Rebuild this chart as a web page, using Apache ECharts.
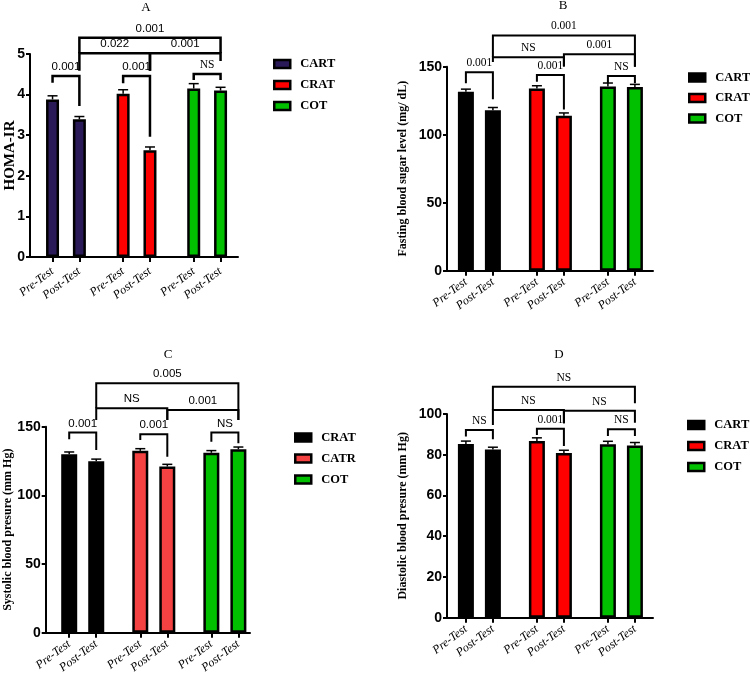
<!DOCTYPE html>
<html>
<head>
<meta charset="utf-8">
<script src="https://cdn.jsdelivr.net/npm/echarts@6/dist/echarts.min.js"></script>
<style>
  html, body { margin: 0; padding: 0; background: #fff; }
  #chart { width: 750px; height: 691px; }
</style>
</head>
<body>
<div id="chart"></div>
<script>
// tick labels under each bar (same in every panel)
const tickLabels = ['Pre-Test', 'Post-Test', 'Pre-Test', 'Post-Test', 'Pre-Test', 'Post-Test'];

// group names per panel (panel C uses different names in its legend)
const groupsA = ['CART', 'CRAT', 'COT'];
const groupsB = ['CART', 'CRAT', 'COT'];
const groupsC = ['CRAT', 'CATR', 'COT'];
const groupsD = ['CART', 'CRAT', 'COT'];

// means and error bars, order: g1 pre, g1 post, g2 pre, g2 post, g3 pre, g3 post
const homaMean = [3.88, 3.39, 4.02, 2.63, 4.15, 4.10];
const homaErr = [0.09, 0.07, 0.10, 0.08, 0.12, 0.08];
const fbsMean = [131.5, 118, 134, 114, 135.5, 135];
const fbsErr = [2, 2, 2, 2, 2.5, 2];
const sbpMean = [130, 124.8, 132.4, 121, 131, 133.6];
const sbpErr = [1.6, 1.6, 1.6, 1.6, 1.6, 1.6];
const dbpMean = [85.3, 82.6, 86.8, 80.8, 85.1, 84.5];
const dbpErr = [1.4, 1.1, 1.5, 1.4, 1.5, 1.5];

// significance brackets: [from bar, to bar, line level, left leg end, right leg end, text]
const homaBrackets = [
  [0, 1, 4.46, 4.29, 3.72, '0.001'],
  [2, 3, 4.46, 4.28, 2.96, '0.001'],
  [4, 5, 4.51, 4.36, 4.36, 'NS'],
  [1, 3, 5.02, 4.59, 4.59, '0.022'],
  [3, 5, 5.02, 4.59, 4.83, '0.001'],
  [1, 5, 5.40, 5.02, 5.02, '0.001']
];
const fbsBrackets = [
  [0, 1, 145.9, 137.8, 126, '0.001'],
  [2, 3, 143.9, 139, 118.5, '0.001'],
  [4, 5, 143.1, 137.8, 137.8, 'NS'],
  [1, 3, 156.9, 153.5, 150.5, 'NS'],
  [3, 5, 159.2, 150, 150, '0.001'],
  [1, 5, 173, 156.9, 150, '0.001']
];
const sbpBrackets = [
  [0, 1, 145.7, 140.9, 133, '0.001'],
  [2, 3, 144.5, 140.3, 128.2, '0.001'],
  [4, 5, 145.7, 139.1, 138, 'NS'],
  [1, 3, 163.4, 154.9, 154.9, 'NS'],
  [3, 5, 162.2, 154.9, 154.9, '0.001'],
  [1, 5, 181.6, 163.4, 154.9, '0.005']
];
const dbpBrackets = [
  [0, 1, 92.1, 88.9, 87.6, 'NS'],
  [2, 3, 92.8, 89.7, 84.3, '0.001'],
  [4, 5, 92.5, 89.2, 89.2, 'NS'],
  [1, 3, 102, 94.6, 95.5, 'NS'],
  [3, 5, 101.6, 95.5, 95.7, 'NS'],
  [1, 5, 113.4, 102, 105.3, 'NS']
];

const SERIF = '"Liberation Serif", "Times New Roman", serif';
const SANS = '"Liberation Sans", Arial, sans-serif';

// bars sit on a value axis: pairs one unit apart, extra gap between groups
const groupGap = 0.63;
const slot = (i) => i + Math.floor(i / 2) * groupGap;
const positions = tickLabels.map((_, i) => slot(i));

const panels = [
  {
    key: 'A', mean: homaMean, err: homaErr, groups: groupsA, brackets: homaBrackets,
    colors: ['#2b1a58', '#ff0000', '#00c000'],
    yName: 'HOMA-IR', yNameSize: 15, nameGap: 12.5, yMax: 5, yInterval: 1,
    left: 30, right: 238, top: 54, bottom: 257, xMin: -0.84, xMax: 6.91, barWidth: 13,
    numFont: SANS, nsFont: SERIF, bracketWidth: 2.5, labelMargin: 13,
    title: [146, 8], legend: [273, 57.5], legendGap: 8
  },
  {
    key: 'B', mean: fbsMean, err: fbsErr, groups: groupsB, brackets: fbsBrackets,
    colors: ['#000000', '#ff0000', '#00c000'],
    yName: 'Fasting blood sugar level (mg/ dL)', yNameSize: 12, nameGap: 38, yMax: 150, yInterval: 50,
    left: 447, right: 653, top: 66.7, bottom: 270.7, xMin: -0.70, xMax: 6.93, barWidth: 16,
    numFont: SERIF, nsFont: SERIF, bracketWidth: 2, labelMargin: 10,
    title: [563, 6], legend: [688, 71], legendGap: 7.5
  },
  {
    key: 'C', mean: sbpMean, err: sbpErr, groups: groupsC, brackets: sbpBrackets,
    colors: ['#000000', '#f44242', '#00c000'],
    yName: 'Systolic blood presure (mm Hg)', yNameSize: 12, nameGap: 32, yMax: 150, yInterval: 50,
    left: 45.7, right: 250, top: 426.7, bottom: 632.7, xMin: -0.87, xMax: 6.69, barWidth: 16,
    numFont: SANS, nsFont: SANS, bracketWidth: 2, labelMargin: 10,
    title: [168, 355], legend: [294, 431], legendGap: 8
  },
  {
    key: 'D', mean: dbpMean, err: dbpErr, groups: groupsD, brackets: dbpBrackets,
    colors: ['#000000', '#ff0000', '#00c000'],
    yName: 'Diastolic blood presure (mm Hg)', yNameSize: 12, nameGap: 38, yMax: 100, yInterval: 20,
    left: 447, right: 653, top: 414, bottom: 617.7, xMin: -0.70, xMax: 6.93, barWidth: 16,
    numFont: SERIF, nsFont: SERIF, bracketWidth: 2, labelMargin: 10,
    title: [559, 355], legend: [687, 418.5], legendGap: 8
  }
];

const labelFor = (v) => {
  const i = positions.findIndex((p) => Math.abs(p - v) < 1e-6);
  return i >= 0 ? tickLabels[i] : '';
};

const grid = [], xAxis = [], yAxis = [], series = [], legend = [], graphic = [];

panels.forEach((p, k) => {
  grid.push({
    left: p.left, top: p.top, width: p.right - p.left, height: p.bottom - p.top,
    outerBoundsMode: 'none'
  });

  xAxis.push({
    type: 'value', gridIndex: k, min: p.xMin, max: p.xMax,
    axisLine: { show: true, onZero: false, lineStyle: { color: '#000', width: 2 } },
    axisTick: { show: true, customValues: positions, length: 5, lineStyle: { color: '#000', width: 2 } },
    axisLabel: {
      customValues: positions, rotate: 37, margin: p.labelMargin, formatter: labelFor,
      fontFamily: SERIF, fontStyle: 'italic', fontSize: 12, color: '#000'
    },
    splitLine: { show: false }
  });

  yAxis.push({
    type: 'value', gridIndex: k, min: 0, max: p.yMax, interval: p.yInterval,
    name: p.yName, nameLocation: 'middle', nameGap: p.nameGap, nameMoveOverlap: false,
    nameTextStyle: { fontFamily: SERIF, fontWeight: 'bold', fontSize: p.yNameSize, color: '#000' },
    axisLine: { show: true, onZero: false, lineStyle: { color: '#000', width: 2 } },
    axisTick: { show: true, length: 4, lineStyle: { color: '#000', width: 2 } },
    axisLabel: { fontFamily: SANS, fontWeight: 'bold', fontSize: 14, color: '#000', margin: 5 },
    splitLine: { show: false }
  });

  // bars, one series per group
  p.groups.forEach((g, gi) => {
    series.push({
      type: 'bar', name: g, xAxisIndex: k, yAxisIndex: k,
      barWidth: p.barWidth, barGap: '-100%',
      itemStyle: { color: p.colors[gi], borderColor: '#000', borderWidth: 2.5 },
      data: [0, 1].map((j) => [slot(gi * 2 + j), p.mean[gi * 2 + j]]),
      z: 2
    });
  });

  // error bars (upper whisker only)
  series.push({
    type: 'custom', xAxisIndex: k, yAxisIndex: k, z: 3, silent: true,
    data: p.mean.map((m, i) => [slot(i), m, p.err[i]]),
    renderItem: (params, api) => {
      const x = api.value(0), m = api.value(1), e = api.value(2);
      const a = api.coord([x, m]);
      const b = api.coord([x, m + e]);
      return {
        type: 'group', children: [
          { type: 'line', shape: { x1: a[0], y1: a[1], x2: b[0], y2: b[1] }, style: { stroke: '#000', lineWidth: 1.5 } },
          { type: 'line', shape: { x1: b[0] - 5, y1: b[1], x2: b[0] + 5, y2: b[1] }, style: { stroke: '#000', lineWidth: 1.5 } }
        ]
      };
    }
  });

  // significance brackets
  series.push({
    type: 'custom', xAxisIndex: k, yAxisIndex: k, z: 4, silent: true, clip: false,
    data: p.brackets.map((b) => [slot(b[0]), b[2]]),
    renderItem: (params, api) => {
      const b = p.brackets[params.dataIndex];
      const x1 = slot(b[0]), x2 = slot(b[1]);
      const pL = api.coord([x1, b[3]]);
      const pTL = api.coord([x1, b[2]]);
      const pTR = api.coord([x2, b[2]]);
      const pR = api.coord([x2, b[4]]);
      return {
        type: 'group', children: [
          {
            type: 'polyline', shape: { points: [pL, pTL, pTR, pR] },
            style: { stroke: '#000', lineWidth: p.bracketWidth, fill: null, lineJoin: 'miter' }
          },
          {
            type: 'text', x: (pTL[0] + pTR[0]) / 2, y: pTL[1] - 3,
            style: {
              text: b[5], align: 'center', verticalAlign: 'bottom',
              fontFamily: b[5] === 'NS' ? p.nsFont : p.numFont, fontSize: 11.5, fill: '#000'
            }
          }
        ]
      };
    }
  });

  legend.push({
    orient: 'vertical', left: p.legend[0], top: p.legend[1], padding: 0,
    itemWidth: 16, itemHeight: 8, itemGap: p.legendGap, icon: 'rect', selectedMode: false,
    textStyle: { fontFamily: SERIF, fontWeight: 'bold', fontSize: 12.5, color: '#000', padding: [0, 0, 0, 5] },
    data: p.groups.map((g, gi) => ({
      name: g, itemStyle: { color: p.colors[gi], borderColor: '#000', borderWidth: 2.5 }
    }))
  });

  graphic.push({
    type: 'text', x: p.title[0], y: p.title[1],
    style: { text: p.key, fontFamily: SERIF, fontSize: 13, fill: '#000', align: 'center', verticalAlign: 'middle' }
  });
});

const chart = echarts.init(document.getElementById('chart'), null, { renderer: 'canvas' });
chart.setOption({
  backgroundColor: '#fff',
  animation: false,
  grid, xAxis, yAxis, series, legend, graphic
});
</script>
</body>
</html>
